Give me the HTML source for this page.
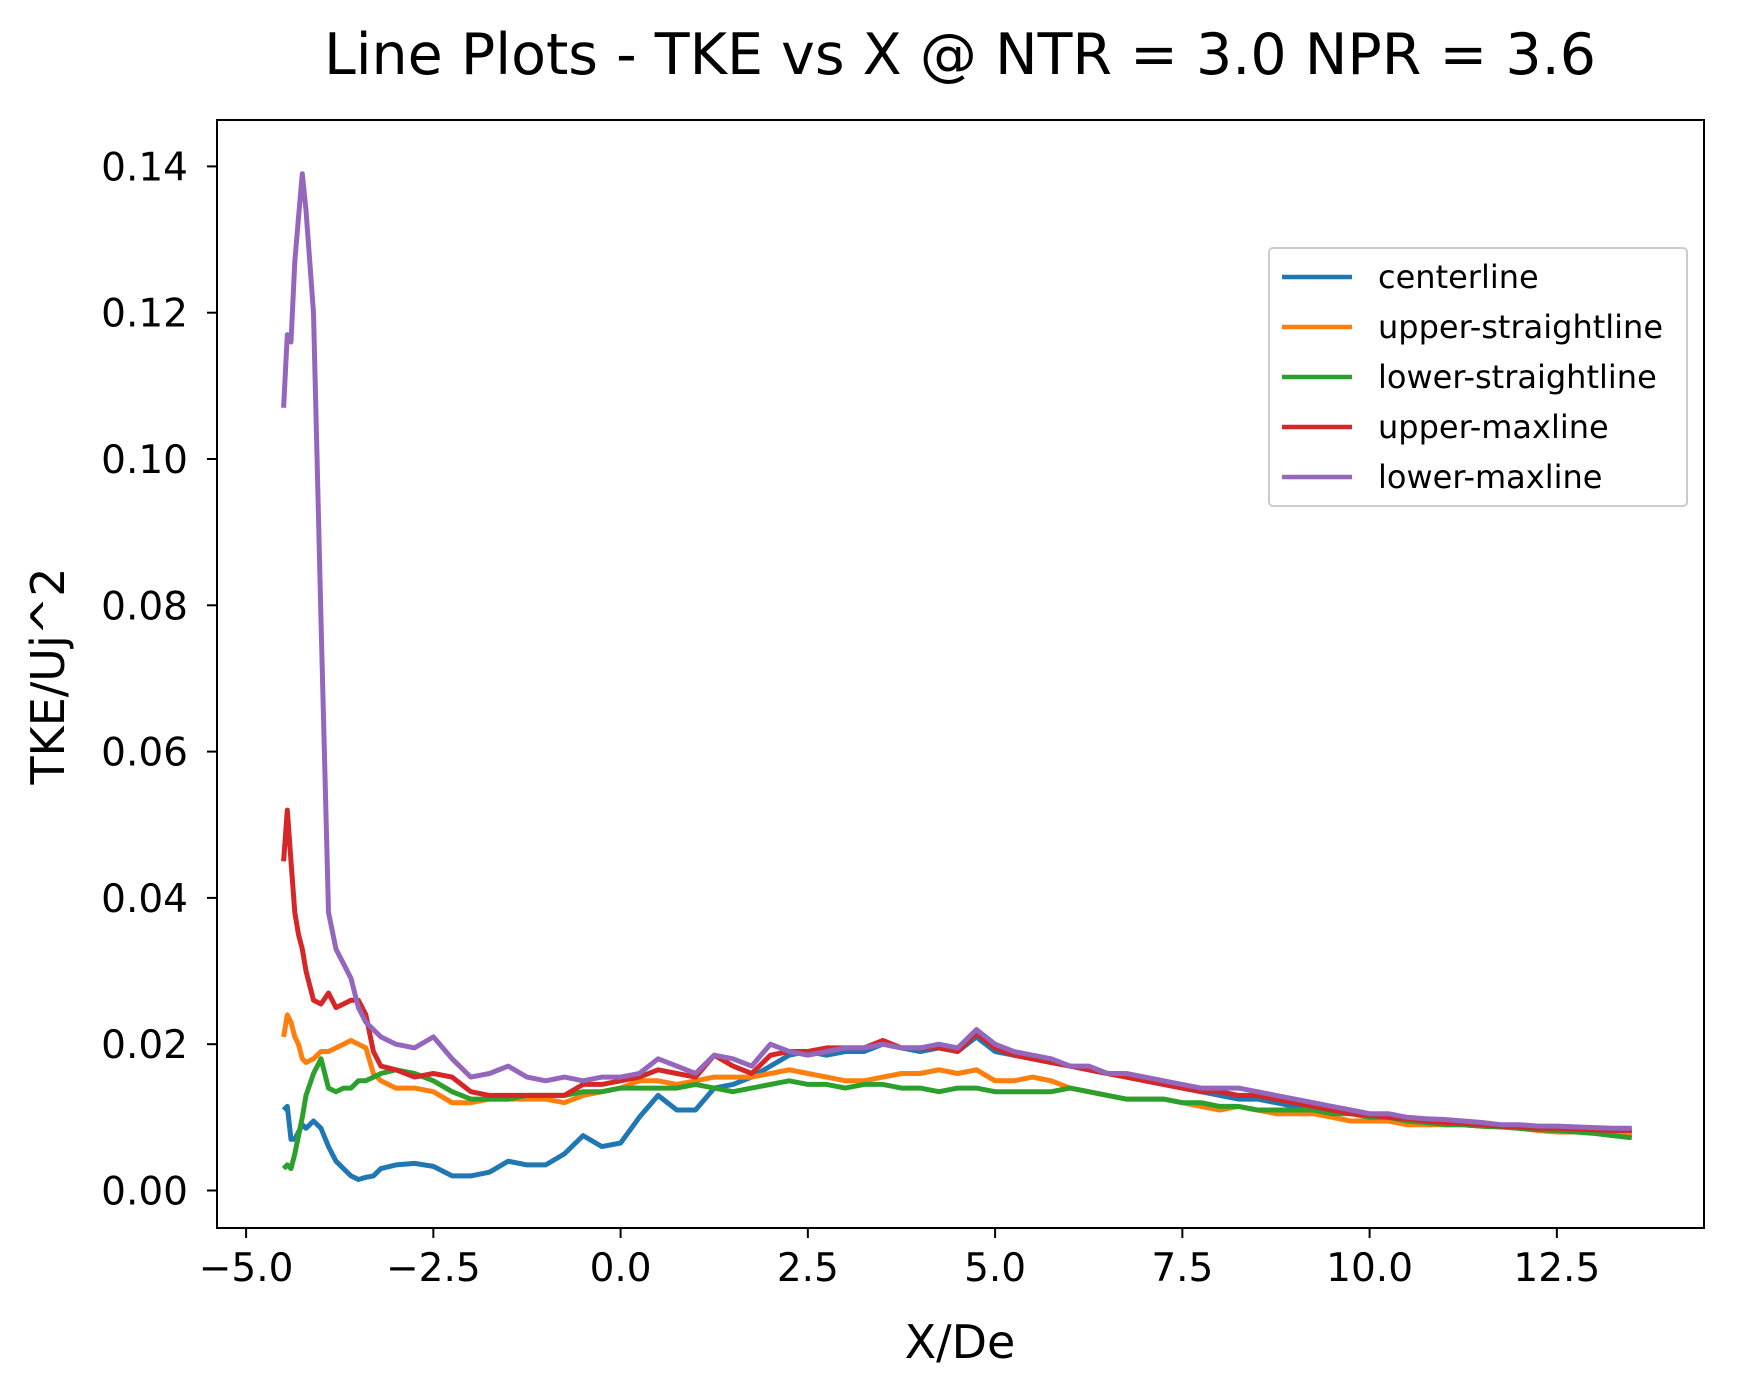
<!DOCTYPE html>
<html><head><meta charset="utf-8"><style>
html,body{margin:0;padding:0;background:#fff}
svg{display:block;font-family:"DejaVu Sans","Liberation Sans",sans-serif}
</style></head><body>
<svg id="chart" width="1738" height="1396" viewBox="0 0 1738 1396" xmlns="http://www.w3.org/2000/svg">
<rect width="1738" height="1396" fill="#fff"/>
<text x="960" y="74" font-size="57" text-anchor="middle">Line Plots - TKE vs X @ NTR = 3.0 NPR = 3.6</text>
<g id="plot"></g>
<rect x="217" y="120" width="1487" height="1108" fill="none" stroke="#000" stroke-width="2"/>
<g id="xticks"></g><g id="yticks"></g>
<text x="960" y="1358" font-size="46" text-anchor="middle">X/De</text>
<text transform="translate(64,676) rotate(-90)" font-size="46" text-anchor="middle">TKE/Uj^2</text>
<g id="legend"></g>
</svg>
<script>
const xs=[-4.5,-4.45,-4.4,-4.35,-4.3,-4.25,-4.2,-4.1,-4.0,-3.9,-3.8,-3.7,-3.6,-3.5,-3.4,-3.3,-3.2,
-3.0,-2.75,-2.5,-2.25,-2.0,-1.75,-1.5,-1.25,-1.0,-0.75,-0.5,-0.25,0,0.25,0.5,0.75,1.0,1.25,1.5,1.75,2.0,2.25,2.5,2.75,3.0,3.25,3.5,3.75,4.0,4.25,4.5,4.75,5.0,5.25,5.5,5.75,6.0,6.25,6.5,6.75,7.0,7.25,7.5,7.75,8.0,8.25,8.5,8.75,9.0,9.25,9.5,9.75,10.0,10.25,10.5,10.75,11.0,11.25,11.5,11.75,12.0,12.25,12.5,12.75,13.0,13.25,13.5];
const centerline=[0.011,0.0115,0.007,0.007,0.008,0.009,0.0085,0.0095,0.0085,0.006,0.004,0.003,0.002,0.0015,0.0018,0.002,0.003,
0.0035,0.0037,0.0033,0.002,0.002,0.0025,0.004,0.0035,0.0035,0.005,0.0075,0.006,0.0065,0.010,0.013,0.011,0.011,0.014,0.0145,0.0155,0.017,0.0185,0.019,0.0185,0.019,0.019,0.020,0.0195,0.019,0.0195,0.019,0.021,0.019,0.0185,0.018,0.0175,0.017,0.0165,0.016,0.0155,0.015,0.0145,0.014,0.0135,0.013,0.0125,0.0125,0.012,0.0115,0.011,0.011,0.0105,0.0102,0.01,0.0097,0.0095,0.0092,0.009,0.0088,0.0087,0.0085,0.0083,0.0083,0.0082,0.0082,0.008,0.008];
const upperStraight=[0.021,0.024,0.023,0.021,0.020,0.018,0.0175,0.018,0.019,0.019,0.0195,0.020,0.0205,0.020,0.0195,0.016,0.015,
0.014,0.014,0.0135,0.012,0.012,0.0125,0.0125,0.0125,0.0125,0.012,0.013,0.0135,0.014,0.015,0.015,0.0145,0.015,0.0155,0.0155,0.0155,0.016,0.0165,0.016,0.0155,0.015,0.015,0.0155,0.016,0.016,0.0165,0.016,0.0165,0.015,0.015,0.0155,0.015,0.014,0.0135,0.013,0.0125,0.0125,0.0125,0.012,0.0115,0.011,0.0115,0.011,0.0105,0.0105,0.0105,0.01,0.0095,0.0095,0.0095,0.009,0.009,0.009,0.009,0.0088,0.0088,0.0085,0.0082,0.008,0.008,0.008,0.0078,0.0078];
const lowerStraight=[0.003,0.0035,0.003,0.005,0.0075,0.010,0.013,0.016,0.018,0.014,0.0135,0.014,0.014,0.015,0.015,0.0155,0.016,
0.0165,0.016,0.015,0.0135,0.0125,0.0125,0.0125,0.013,0.013,0.013,0.0135,0.0135,0.014,0.014,0.014,0.014,0.0145,0.014,0.0135,0.014,0.0145,0.015,0.0145,0.0145,0.014,0.0145,0.0145,0.014,0.014,0.0135,0.014,0.014,0.0135,0.0135,0.0135,0.0135,0.014,0.0135,0.013,0.0125,0.0125,0.0125,0.012,0.012,0.0115,0.0115,0.011,0.011,0.011,0.011,0.0105,0.0105,0.01,0.01,0.0095,0.0093,0.009,0.009,0.0088,0.0087,0.0085,0.0083,0.0082,0.008,0.0078,0.0075,0.0072];
const upperMax=[0.045,0.052,0.045,0.038,0.035,0.033,0.030,0.026,0.0255,0.027,0.025,0.0255,0.026,0.026,0.024,0.019,0.017,
0.0165,0.0155,0.016,0.0155,0.0135,0.013,0.013,0.013,0.013,0.013,0.0145,0.0145,0.015,0.0155,0.0165,0.016,0.0155,0.0185,0.017,0.016,0.0185,0.019,0.019,0.0195,0.0195,0.0195,0.0205,0.0195,0.0195,0.0195,0.019,0.0215,0.0195,0.0185,0.018,0.0175,0.017,0.0165,0.016,0.0155,0.015,0.0145,0.014,0.0135,0.0135,0.013,0.013,0.0125,0.012,0.0115,0.011,0.0105,0.0103,0.01,0.0098,0.0095,0.0093,0.0092,0.009,0.0088,0.0087,0.0085,0.0085,0.0084,0.0083,0.0082,0.0082];
const lowerMax=[0.107,0.117,0.116,0.127,0.133,0.139,0.134,0.120,0.078,0.038,0.033,0.031,0.029,0.025,0.023,0.022,0.021,
0.020,0.0195,0.021,0.018,0.0155,0.016,0.017,0.0155,0.015,0.0155,0.015,0.0155,0.0155,0.016,0.018,0.017,0.016,0.0185,0.018,0.017,0.02,0.019,0.0185,0.019,0.0195,0.0195,0.02,0.0195,0.0195,0.02,0.0195,0.022,0.02,0.019,0.0185,0.018,0.017,0.017,0.016,0.016,0.0155,0.015,0.0145,0.014,0.014,0.014,0.0135,0.013,0.0125,0.012,0.0115,0.011,0.0105,0.0105,0.01,0.0098,0.0097,0.0095,0.0093,0.009,0.009,0.0088,0.0088,0.0087,0.0086,0.0085,0.0085];
const seriesNames=["centerline","upper-straightline","lower-straightline","upper-maxline","lower-maxline"];
const xTickVals=[-5,-2.5,0,2.5,5,7.5,10,12.5];
const xTickLabels=["\u22125.0","\u22122.5","0.0","2.5","5.0","7.5","10.0","12.5"];
const yTickVals=[0,0.02,0.04,0.06,0.08,0.10,0.12,0.14];
const yTickLabels=["0.00","0.02","0.04","0.06","0.08","0.10","0.12","0.14"];

const NS="http://www.w3.org/2000/svg";
const X=v=>620.6+v*74.9;
const Y=v=>1190.5-v*7315;
const colors=["#1f77b4","#ff7f0e","#2ca02c","#d62728","#9467bd"];
const allSeries=[centerline,upperStraight,lowerStraight,upperMax,lowerMax];
function mk(t,a){const e=document.createElementNS(NS,t);for(const k in a)e.setAttribute(k,a[k]);return e;}
const plot=document.getElementById('plot');
allSeries.forEach((s,i)=>{
  const d=s.map((v,j)=>(j?'L':'M')+X(xs[j]).toFixed(1)+' '+Y(v).toFixed(1)).join('');
  const p=mk('path',{d:d,fill:'none',stroke:colors[i],'stroke-width':5,'stroke-linejoin':'round'});
  
  
  plot.appendChild(p);
});
const xt=document.getElementById('xticks');
xTickVals.forEach((v,i)=>{
  const l=mk('line',{x1:X(v),x2:X(v),y1:1228,y2:1238,stroke:'#000','stroke-width':2});
  
  
  xt.appendChild(l);
  const t=mk('text',{x:X(v),y:1281,'font-size':39,'text-anchor':'middle'});
  t.textContent=xTickLabels[i];
  
  
  xt.appendChild(t);
});
const yt=document.getElementById('yticks');
yTickVals.forEach((v,i)=>{
  const l=mk('line',{x1:207,x2:217,y1:Y(v),y2:Y(v),stroke:'#000','stroke-width':2});
  
  
  yt.appendChild(l);
  const t=mk('text',{x:188,y:Y(v)+14,'font-size':39,'text-anchor':'end'});
  t.textContent=yTickLabels[i];
  
  
  yt.appendChild(t);
});
const lg=document.getElementById('legend');
const box=mk('rect',{x:1269,y:248,width:418,height:258,rx:4,fill:'#fff','fill-opacity':0.8,stroke:'#ccc','stroke-width':2});


lg.appendChild(box);
seriesNames.forEach((n,i)=>{
  const yy=277+i*50;
  const l=mk('line',{x1:1282,x2:1352,y1:yy,y2:yy,stroke:colors[i],'stroke-width':4.5});
  
  
  lg.appendChild(l);
  const t=mk('text',{x:1378,y:yy+11,'font-size':32});
  t.textContent=n;
  
  
  lg.appendChild(t);
});
</script>
</body></html>
